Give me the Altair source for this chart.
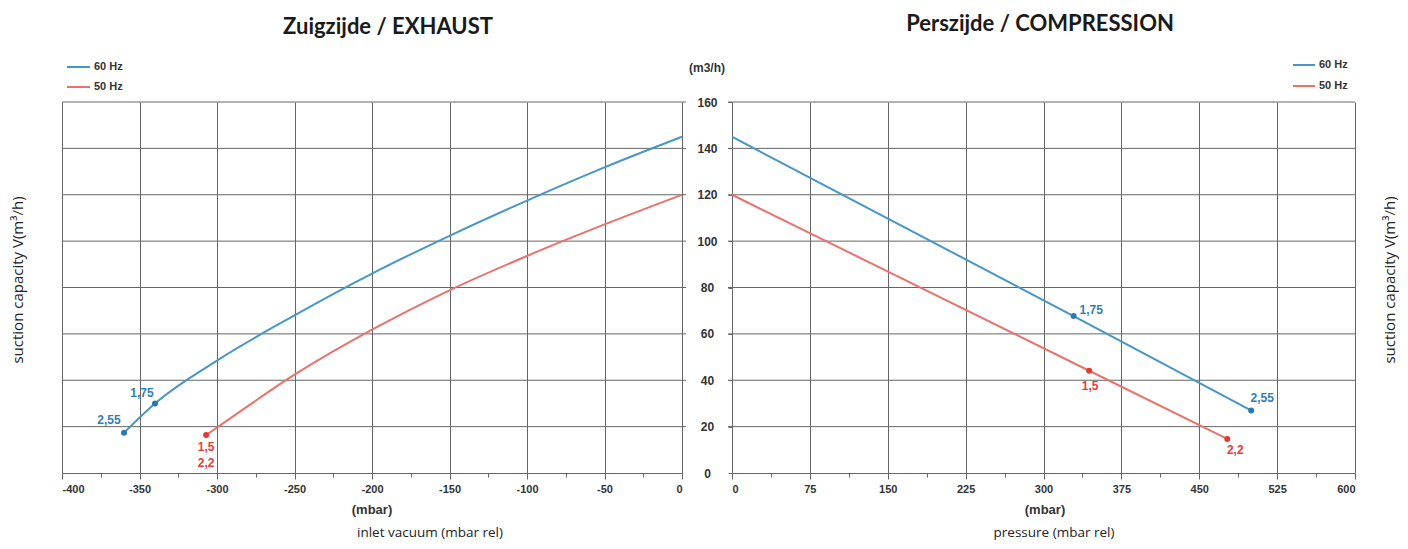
import altair as alt
import pandas as pd

# ---------------- data ----------------
# Zuigzijde / EXHAUST  (inlet vacuum, mbar)
ex60_x = [-360, -340, -300, -250, -200, -150, -100, -50, 0]
ex60_y = [17.4, 30, 48.5, 68, 86, 102.3, 117.5, 131.8, 145]
ex50_x = [-307, -300, -250, -200, -150, -100, -50, 0]
ex50_y = [16.4, 19.6, 42.4, 61.8, 78.8, 93.6, 107.2, 120]
ex60_pt_x = [-360, -340]
ex60_pt_y = [17.4, 30]
ex60_pt_lab = ["2,55", "1,75"]
ex50_pt_x = [-307]
ex50_pt_y = [16.4]
ex50_pt_lab = ["1,5", "2,2"]

# Perszijde / COMPRESSION (pressure, mbar)
co60_x = [0, 329, 500]
co60_y = [145, 67.7, 27]
co50_x = [0, 344, 477]
co50_y = [120, 44.1, 14.7]
co60_pt_x = [329, 500]
co60_pt_y = [67.7, 27]
co60_pt_lab = ["1,75", "2,55"]
co50_pt_x = [344, 477]
co50_pt_y = [44.1, 14.7]
co50_pt_lab = ["1,5", "2,2"]

y_ticks = [0, 20, 40, 60, 80, 100, 120, 140, 160]
grid_y = [20, 40, 60, 80, 100, 120, 140, 160]
ex_ticks = [-400 + 25 * i for i in range(17)]
co_ticks = [37.5 * i for i in range(17)]

# ---------------- style ----------------
W, H = 1293, 371
LEFT_RANGE = [0, 620]
RIGHT_RANGE = [670, 1293]
BLUE_LINE = "#4797c4"
RED_LINE = "#e8736d"
BLUE_PT = "#2a78b0"
RED_PT = "#e03a35"
BLUE_TXT = "#2f80b6"
RED_TXT = "#e0413c"
GRID = "#666666"
TICK_FONT = "Liberation Sans"
TXT_FONT = "Open Sans"
TITLE_FONT = "Lato"

y_axis = alt.Axis(orient="left", offset=-670, values=y_ticks, domain=False, grid=False,
                  tickSize=4, tickColor=GRID, labelAlign="center", labelPadding=21,
                  labelFont=TICK_FONT, labelFontSize=12, labelFontWeight="bold",
                  labelColor="#333333", title=None)
Y = alt.Y("y:Q", scale=alt.Scale(domain=[0, 160], nice=False), axis=y_axis)

ex_axis = alt.Axis(orient="bottom", values=ex_ticks,
                   labelExpr="datum.value % 50 === 0 ? '' + datum.value : ''",
                   gridOpacity={"condition": {"test": "datum.value % 50 === 0", "value": 1}, "value": 0},
                   tickSize={"condition": {"test": "datum.value % 50 === 0", "value": 6}, "value": 4},
                   grid=True, gridColor=GRID, gridWidth=1, domainColor=GRID, tickColor=GRID,
                   labelFont=TICK_FONT, labelFontSize=11, labelFontWeight="bold",
                   labelColor="#333333", labelPadding=4, title=None)
co_axis = alt.Axis(orient="bottom", values=co_ticks,
                   labelExpr="datum.value % 75 === 0 ? '' + datum.value : ''",
                   gridOpacity={"condition": {"test": "datum.value % 75 === 0", "value": 1}, "value": 0},
                   tickSize={"condition": {"test": "datum.value % 75 === 0", "value": 6}, "value": 4},
                   grid=True, gridColor=GRID, gridWidth=1, domainColor=GRID, tickColor=GRID,
                   labelFont=TICK_FONT, labelFontSize=11, labelFontWeight="bold",
                   labelColor="#333333", labelPadding=4, title=None)
XL = alt.X("x:Q", scale=alt.Scale(domain=[-400, 0], range=LEFT_RANGE, nice=False), axis=ex_axis)
XR = alt.X("x:Q", scale=alt.Scale(domain=[0, 600], range=RIGHT_RANGE, nice=False), axis=co_axis)


def df(xs, ys, labs=None):
    d = {"x": xs, "y": ys}
    if labs is not None:
        d["t"] = labs
    return pd.DataFrame(d)


def curve(xs, ys, X, color):
    return alt.Chart(df(xs, ys)).mark_line(color=color, strokeWidth=2, interpolate="monotone").encode(x=X, y=Y)


def pts(xs, ys, X, color):
    return alt.Chart(df(xs, ys)).mark_circle(color=color, size=36, opacity=1).encode(x=X, y=Y)


def ptlab(x, y, text, X, color, dx, dy, align="center"):
    return alt.Chart(df([x], [y], [text])).mark_text(
        color=color, font=TICK_FONT, fontSize=12, fontWeight="bold", dx=dx, dy=dy,
        align=align, baseline="middle").encode(x=X, y=Y, text="t:N")


def free_text(text, x, y, size, weight="normal", font=TXT_FONT, color="#222222", angle=0, align="center"):
    return alt.Chart(pd.DataFrame({"t": [text]})).mark_text(
        fontSize=size, fontWeight=weight, font=font, color=color, angle=angle,
        align=align, baseline="middle").encode(x=alt.value(x), y=alt.value(y), text="t:N")


def legend_item(x1, x2, y, color, text):
    line = alt.Chart(pd.DataFrame({"a": [0]})).mark_rule(color=color, strokeWidth=2).encode(
        x=alt.value(x1), x2=alt.value(x2), y=alt.value(y))
    return [line, free_text(text, x2 + 4, y, 11, "bold", TICK_FONT, "#333333", align="left")]


hgrid_left = alt.Chart(pd.DataFrame({"y": grid_y})).mark_rule(color=GRID, strokeWidth=1).encode(
    y=Y, x=alt.value(LEFT_RANGE[0]), x2=alt.value(LEFT_RANGE[1] + 4))
hgrid_right = alt.Chart(pd.DataFrame({"y": grid_y})).mark_rule(color=GRID, strokeWidth=1).encode(
    y=Y, x=alt.value(RIGHT_RANGE[0] - 4), x2=alt.value(RIGHT_RANGE[1]))

left = alt.layer(
    curve(ex60_x, ex60_y, XL, BLUE_LINE),
    curve(ex50_x, ex50_y, XL, RED_LINE),
    pts(ex60_pt_x, ex60_pt_y, XL, BLUE_PT),
    pts(ex50_pt_x, ex50_pt_y, XL, RED_PT),
    ptlab(ex60_pt_x[0], ex60_pt_y[0], ex60_pt_lab[0], XL, BLUE_TXT, -15, -13),
    ptlab(ex60_pt_x[1], ex60_pt_y[1], ex60_pt_lab[1], XL, BLUE_TXT, -13, -10),
    ptlab(ex50_pt_x[0], ex50_pt_y[0], ex50_pt_lab[0], XL, RED_TXT, 0, 12),
    ptlab(ex50_pt_x[0], ex50_pt_y[0], ex50_pt_lab[1], XL, RED_TXT, 0, 28),
)

right = alt.layer(
    curve(co60_x, co60_y, XR, BLUE_LINE),
    curve(co50_x, co50_y, XR, RED_LINE),
    pts(co60_pt_x, co60_pt_y, XR, BLUE_PT),
    pts(co50_pt_x, co50_pt_y, XR, RED_PT),
    ptlab(co60_pt_x[0], co60_pt_y[0], co60_pt_lab[0], XR, BLUE_TXT, 6, -6, "left"),
    ptlab(co60_pt_x[1], co60_pt_y[1], co60_pt_lab[1], XR, BLUE_TXT, 11, -12),
    ptlab(co50_pt_x[0], co50_pt_y[0], co50_pt_lab[0], XR, RED_TXT, 1, 15),
    ptlab(co50_pt_x[1], co50_pt_y[1], co50_pt_lab[1], XR, RED_TXT, 8, 11),
)

texts = [
    free_text("Zuigzijde / EXHAUST", 326, -75, 22, "bold", TITLE_FONT, "#1a1a1a"),
    free_text("Perszijde / COMPRESSION", 978, -78, 22, "bold", TITLE_FONT, "#1a1a1a"),
    free_text("(m3/h)", 645, -34, 12, "bold", TICK_FONT, "#333333"),
    free_text("(mbar)", 310, 408, 13, "bold", TICK_FONT, "#333333"),
    free_text("(mbar)", 983, 408, 13, "bold", TICK_FONT, "#333333"),
    free_text("inlet vacuum (mbar rel)", 368, 431, 13.5),
    free_text("pressure (mbar rel)", 992, 431, 13.5),
    free_text("suction capacity V(m³/h)", -44, 178, 15, angle=270),
    free_text("suction capacity V(m³/h)", 1328, 178, 15, angle=270),
]
legend = (legend_item(5, 28, -35, BLUE_LINE, "60 Hz") + legend_item(5, 28, -15, RED_LINE, "50 Hz")
          + legend_item(1231, 1253, -37, BLUE_LINE, "60 Hz") + legend_item(1231, 1253, -16, RED_LINE, "50 Hz"))

chart = alt.layer(hgrid_left, hgrid_right, left, right, *texts, *legend).resolve_scale(
    x="independent").properties(
    width=W, height=H,
    autosize=alt.AutoSizeParams(type="none"),
    padding={"left": 54, "top": 94, "right": 44, "bottom": 68},
    background="white",
).configure_view(stroke=None)

chart.save("out.html", embed_options={"renderer": "svg", "actions": False})
